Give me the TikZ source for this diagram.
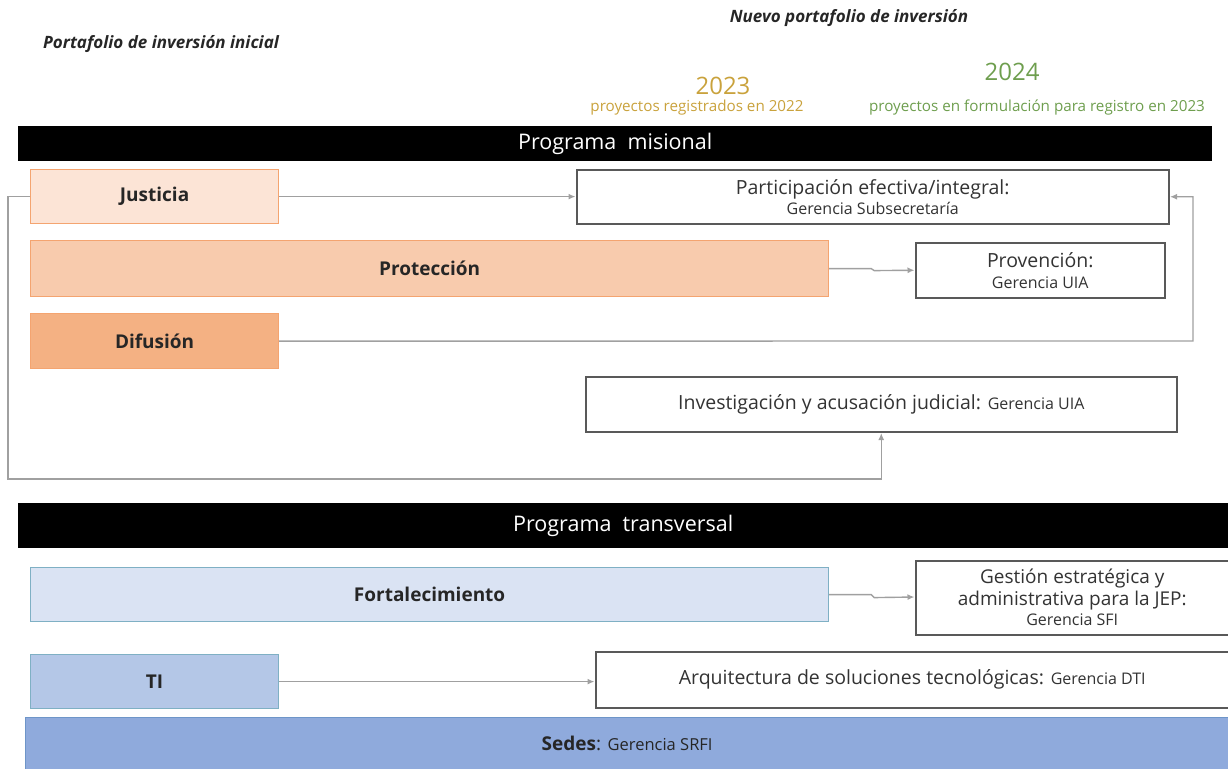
\documentclass[tikz,border=0pt]{standalone}
\usepackage{fontspec}
\setmainfont{Open Sans}
\usetikzlibrary{arrows.meta}
\definecolor{jusF}{HTML}{FCE4D6}
\definecolor{proF}{HTML}{F8CBAD}
\definecolor{difF}{HTML}{F4B183}
\definecolor{orB}{HTML}{F4A470}
\definecolor{forF}{HTML}{DAE3F3}
\definecolor{tiF}{HTML}{B4C7E7}
\definecolor{sedF}{HTML}{8FAADC}
\definecolor{blB}{HTML}{7FB0C4}
\definecolor{sedB}{HTML}{6E95C8}
\definecolor{yrA}{HTML}{C9A23C}
\definecolor{yrB}{HTML}{6E9E4E}
\definecolor{txt}{HTML}{333333}
\definecolor{conC}{HTML}{A0A0A0}
\tikzset{
  src/.style={draw=orB, line width=1.2pt, inner sep=0pt, anchor=north west, font=\fontsize{19}{22}\selectfont\bfseries, text=black!85},
  srcb/.style={src, draw=blB},
  tgt/.style={draw=black!65, line width=1.5pt, fill=white, inner sep=0pt, anchor=north west, text=txt, align=center, font=\fontsize{19.5}{22}\selectfont},
  bar/.style={fill=black, inner sep=0pt, anchor=north west, text=white, font=\fontsize{21.5}{24}\selectfont},
  conn/.style={draw=conC, line width=1.4pt},
  arr/.style={conn, -{Latex[length=7pt,width=6pt]}, shorten >=0.5pt},
  head/.style={font=\fontsize{17}{20}\selectfont\bfseries\itshape, text=black!85}
}
\newcommand{\gsm}[1]{{\fontsize{16}{18}\selectfont #1}}
\begin{document}
\begin{tikzpicture}[x=1pt,y=-1pt]
\useasboundingbox (0,0) rectangle (1228,768);
% headers
\node[head] (hini) at (161,44) {Portafolio de inversión inicial};
\node[head] (hnew) at (849,18) {Nuevo portafolio de inversión};
\node[text=yrA, font=\fontsize{24}{26}\selectfont] (y23) at (723,86) {2023};
\node[text=yrA, font=\fontsize{15.2}{17}\selectfont] (p23) at (697,108) {proyectos registrados en 2022};
\node[text=yrB, font=\fontsize{24}{26}\selectfont] (y24) at (1012,72) {2024};
\node[text=yrB, font=\fontsize{15.2}{17}\selectfont] (p24) at (1037,108) {proyectos en formulación para registro en 2023};
% bars
\node[bar, minimum width=1194pt, minimum height=35pt] (mis) at (18,126) {\raisebox{-2pt}{Programa\ \ misional}};
\node[bar, minimum width=1210pt, minimum height=45pt] (tra) at (18,503) {\raisebox{-2pt}{Programa\ \ transversal}};
% sources
\node[src, fill=jusF, minimum width=248pt, minimum height=54pt] (jus) at (30,169) {Justicia};
\node[src, fill=proF, minimum width=798pt, minimum height=56pt] (pro) at (30,240) {Protección};
\node[src, fill=difF, minimum width=248pt, minimum height=55pt] (dif) at (30,313) {Difusión};
\node[srcb, fill=forF, minimum width=798pt, minimum height=54pt] (for) at (30,567) {Fortalecimiento};
\node[srcb, fill=tiF, minimum width=248pt, minimum height=54pt] (ti) at (30,654) {TI};
\node[draw=sedB, line width=1.2pt, fill=sedF, inner sep=0pt, anchor=north west, minimum width=1203pt, minimum height=52pt, font=\fontsize{19}{22}\selectfont, text=black!85] (sed) at (25,717) {\textbf{Sedes}: {\fontsize{16.5}{18}\selectfont Gerencia SRFI}};
% targets
\node[tgt, minimum width=592pt, minimum height=54pt] (par) at (576,169) {Participación efectiva/integral:\\[-2pt] \gsm{Gerencia Subsecretaría}};
\node[tgt, minimum width=249pt, minimum height=55pt] (prv) at (915,242) {Provención:\\[-1pt] \gsm{Gerencia UIA}};
\node[tgt, minimum width=591pt, minimum height=55pt] (inv) at (585,376) {Investigación y acusación judicial: \gsm{Gerencia UIA}};
\node[tgt, minimum width=313pt, minimum height=74pt, font=\fontsize{19}{21}\selectfont] (ges) at (915,560) {Gestión estratégica y\\[1pt] administrativa para la JEP:\\[-1pt] \gsm{Gerencia SFI}};
\node[tgt, minimum width=633pt, minimum height=56pt] (arq) at (595,651) {Arquitectura de soluciones tecnológicas: \gsm{Gerencia DTI}};
% connectors
\coordinate (jl) at (8,479);
\coordinate (dr) at (1193,341);
\draw[arr] (jus.east) -- (jus.east -| par.west);
\draw[arr] (jus.west) -| (jl) -| (inv.south);
\draw[arr] (pro.east) -- ++(42,0) -- ++(3,2) -- (prv.west);
\draw[arr] (dif.east) -- (dr) |- (par.east);
\draw[arr] (for.east) -- ++(42,0) -- ++(3,3) -- (ges.west |- 0,597);
\draw[arr] (ti.east) -- (ti.east -| arq.west);
\end{tikzpicture}
\end{document}
